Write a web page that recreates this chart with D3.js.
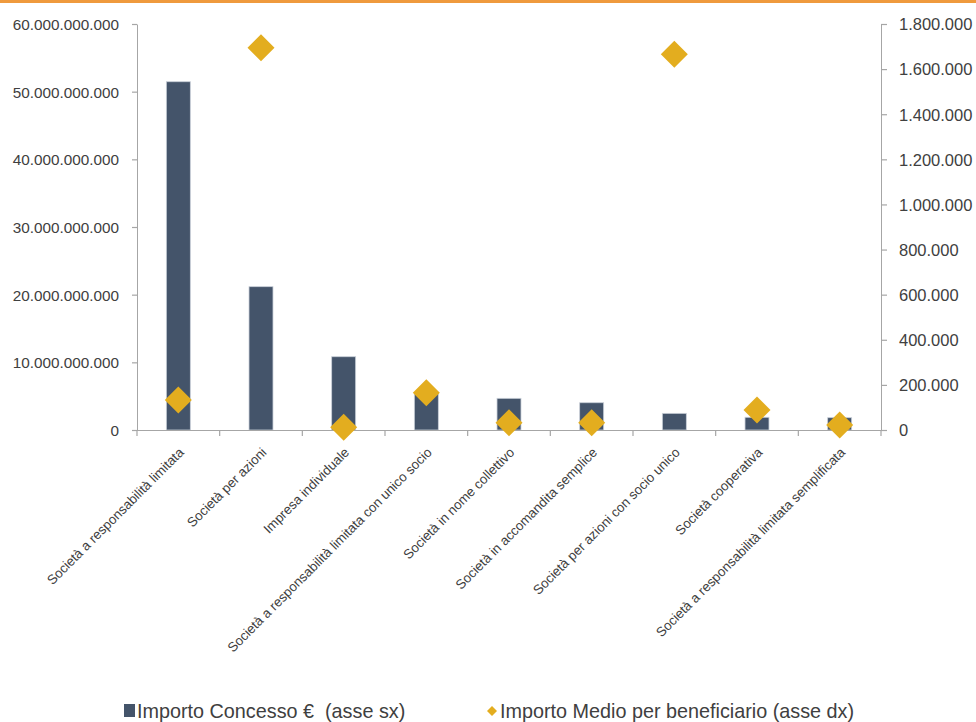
<!DOCTYPE html>
<html>
<head>
<meta charset="utf-8">
<script src="https://cdn.jsdelivr.net/npm/d3@7"></script>
<style>
  html, body { margin: 0; padding: 0; background: #fff; }
  svg { display: block; }
  text { font-family: "Liberation Sans", Arial, sans-serif; fill: #404040; }
</style>
</head>
<body>
<svg id="chart" width="976" height="722"></svg>
<script>
// ---- Data ----
const categories = [
  "Società a responsabilità limitata",
  "Società per azioni",
  "Impresa individuale",
  "Società a responsabilità limitata con unico socio",
  "Società in nome collettivo",
  "Società in accomandita semplice",
  "Società per azioni con socio unico",
  "Società cooperativa",
  "Società a responsabilità limitata semplificata"
];
const importoConcesso = [51470000000, 21180000000, 10830000000, 5420000000, 4680000000, 4030000000, 2460000000, 1880000000, 1820000000];
const importoMedio = [133000, 1695000, 12000, 165000, 32000, 32000, 1666000, 89000, 22000];
const leftTicks = [0, 10000000000, 20000000000, 30000000000, 40000000000, 50000000000, 60000000000];
const rightTicks = [0, 200000, 400000, 600000, 800000, 1000000, 1200000, 1400000, 1600000, 1800000];
const seriesNames = ["Importo Concesso €  (asse sx)", "Importo Medio per beneficiario (asse dx)"];

// ---- Layout ----
const svg = d3.select("#chart");
const W = 976, H = 722;
const plot = { left: 137, right: 881, top: 24, bottom: 430 };
const barColor = "#44546A";
const diamondColor = "#E3AD1F";
const axisColor = "#A6A6A6";

const locale = d3.formatLocale({ decimal: ",", thousands: ".", grouping: [3], currency: ["€", ""] });
const fmt = locale.format(",.0f");

// orange top rule
svg.append("rect").attr("x", 0).attr("y", 0).attr("width", W).attr("height", 3).attr("fill", "#EF9A3D");

const x = d3.scaleBand().domain(categories).range([plot.left, plot.right]).padding(0);
const yL = d3.scaleLinear().domain([0, 60000000000]).range([plot.bottom, plot.top]);
const yR = d3.scaleLinear().domain([0, 1800000]).range([plot.bottom, plot.top]);

// bars
const barW = x.bandwidth() * 0.29;
svg.append("g").selectAll("rect").data(categories).join("rect")
  .attr("x", (d) => x(d) + x.bandwidth() / 2 - barW / 2)
  .attr("y", (d, i) => yL(importoConcesso[i]))
  .attr("width", barW)
  .attr("height", (d, i) => plot.bottom - yL(importoConcesso[i]))
  .attr("fill", barColor)
  .attr("stroke", "#C9CFD8")
  .attr("stroke-width", 0.8);

// left axis
const gL = svg.append("g").attr("transform", `translate(${plot.left},0)`)
  .call(d3.axisLeft(yL).tickValues(leftTicks).tickFormat(fmt).tickSize(5).tickSizeOuter(0).tickPadding(13));
gL.selectAll("text").style("font-size", "15.3px").attr("dy", "0.35em");

// right axis
const gR = svg.append("g").attr("transform", `translate(${plot.right},0)`)
  .call(d3.axisRight(yR).tickValues(rightTicks).tickFormat(fmt).tickSize(6).tickSizeOuter(0).tickPadding(12));
gR.selectAll("text").style("font-size", "16.5px").attr("dy", "0.35em");

// bottom axis line + ticks at category boundaries
const gB = svg.append("g");
gB.append("line").attr("x1", plot.left).attr("x2", plot.right)
  .attr("y1", plot.bottom + 0.5).attr("y2", plot.bottom + 0.5);
const boundaries = categories.map((c) => x(c)).concat([plot.right]);
gB.selectAll("line.tick").data(boundaries).join("line").attr("class", "tick")
  .attr("x1", (d) => d).attr("x2", (d) => d)
  .attr("y1", plot.bottom).attr("y2", plot.bottom + 6);

[gL, gR, gB].forEach((g) => {
  g.selectAll("path.domain").attr("stroke", axisColor);
  g.selectAll("line").attr("stroke", axisColor).attr("stroke-width", 1.2);
});

// category labels rotated -45
svg.append("g").selectAll("text").data(categories).join("text")
  .attr("transform", (d) => `translate(${x(d) + x.bandwidth() / 2 + 3},450) rotate(-45)`)
  .attr("text-anchor", "end")
  .attr("dy", "0.35em")
  .style("font-size", "13.3px")
  .text((d) => d);

// diamonds
const dsz = 13.5;
const diamondPath = (s) => `M0,${-s}L${s},0L0,${s}L${-s},0Z`;
svg.append("g").selectAll("path").data(categories).join("path")
  .attr("d", diamondPath(dsz))
  .attr("transform", (d, i) => `translate(${x(d) + x.bandwidth() / 2},${yR(importoMedio[i])})`)
  .attr("fill", diamondColor);

// legend
const lg = svg.append("g");
lg.append("rect").attr("x", 124).attr("y", 704).attr("width", 11).attr("height", 13).attr("fill", barColor);
lg.append("text").attr("x", 137).attr("y", 718).style("font-size", "19.8px").style("white-space", "pre")
  .attr("xml:space", "preserve").text(seriesNames[0]);
lg.append("path").attr("d", diamondPath(5)).attr("transform", "translate(492,711)").attr("fill", diamondColor);
lg.append("text").attr("x", 500).attr("y", 718).style("font-size", "19.8px").text(seriesNames[1]);
</script>
</body>
</html>
